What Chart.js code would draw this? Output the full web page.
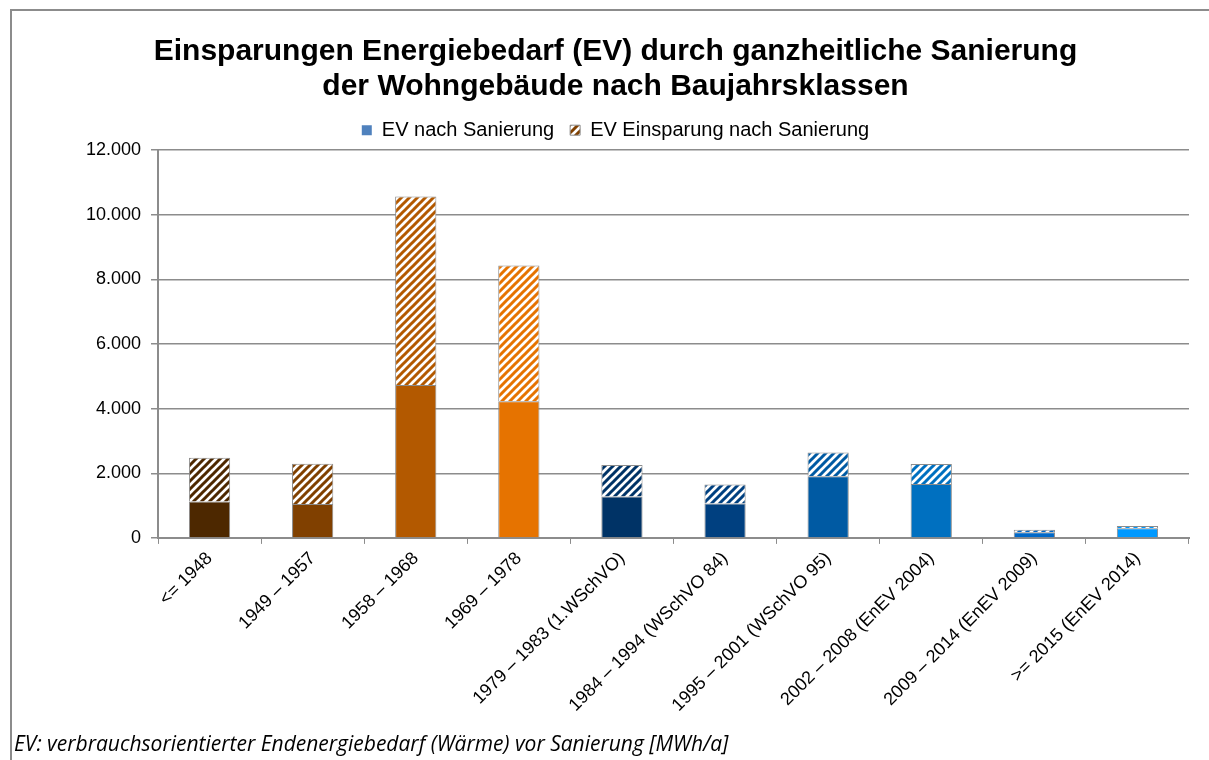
<!DOCTYPE html>
<html>
<head>
<meta charset="utf-8">
<script src="https://cdn.jsdelivr.net/npm/chart.js@4"></script>
<style>
  body { margin: 0; background: #fff; }
  #wrap { position: absolute; left: 10px; top: 9px; width: 1199px; height: 751px;
          border-top: 2px solid #8c8c8c; border-left: 2px solid #8c8c8c; box-sizing: border-box; }
  #note { position: absolute; left: 14px; top: 729px; font-family: "Open Sans", sans-serif;
          font-style: italic; font-size: 21px; color: #000; }
</style>
</head>
<body>
<div id="wrap"><canvas id="myChart"></canvas></div>
<div id="note">EV: verbrauchsorientierter Endenergiebedarf (Wärme) vor Sanierung [MWh/a]</div>
<script>
const ctx = document.getElementById("myChart")

const labels = [
    '<= 1948',
    '1949 – 1957',
    '1958 – 1968',
    '1969 – 1978',
    '1979 – 1983 (1.WSchVO)',
    '1984 – 1994 (WSchVO 84)',
    '1995 – 2001 (WSchVO 95)',
    '2002 – 2008 (EnEV 2004)',
    '2009 – 2014 (EnEV 2009)',
    '>= 2015 (EnEV 2014)',
]

const nachSanierung = [1130, 1050, 4730, 4230, 1285, 1065, 1905, 1670, 175, 300]
const einsparung = [1350, 1245, 5840, 4200, 975, 585, 740, 620, 75, 70]

const barColors = ['#4d2800', '#804000', '#b35900', '#e67300', '#003366',
                   '#004080', '#005aa3', '#0070c0', '#0068c8', '#0099ff']

// diagonal stripes, colour on white
function hatch(color) {
    const c = document.createElement('canvas')
    c.width = 8
    c.height = 8
    const g = c.getContext('2d')
    g.fillStyle = '#fff'
    g.fillRect(0, 0, 8, 8)
    g.strokeStyle = color
    g.lineWidth = 3
    g.beginPath()
    g.moveTo(-2, 10); g.lineTo(10, -2)
    g.moveTo(-6, 6); g.lineTo(6, -6)
    g.moveTo(2, 14); g.lineTo(14, 2)
    g.stroke()
    return g.createPattern(c, 'repeat')
}

const hatchColors = barColors.map(hatch)

const font = "'Liberation Sans', Arial, sans-serif"

const data = {
    labels,
    datasets: [{
        label: 'EV nach Sanierung',
        data: nachSanierung,
        backgroundColor: barColors,
        borderColor: '#8c8c8c',
        borderWidth: 1,
    }, {
        label: 'EV Einsparung nach Sanierung',
        data: einsparung,
        backgroundColor: hatchColors,
        borderColor: '#8c8c8c',
        borderWidth: 1,
    }]
}

const config = {
    type: 'bar',
    data: data,
    options: {
        responsive: false,
        animation: false,
        layout: { padding: { left: 30, right: 20, top: 0, bottom: 40 } },
        datasets: { bar: { barPercentage: 0.4, categoryPercentage: 1 } },
        scales: {
            x: {
                stacked: true,
                grid: { drawOnChartArea: false, drawTicks: true, tickLength: 6, color: '#8c8c8c', offset: true },
                border: { color: '#8c8c8c', width: 2 },
                ticks: { color: '#000', font: { family: font, size: 18 }, maxRotation: 45, minRotation: 45, autoSkip: false, padding: 4 },
            },
            y: {
                stacked: true,
                min: 0,
                max: 12000,
                afterFit: s => { s.width = 116 },
                grid: { color: '#8c8c8c', lineWidth: 1.5, tickLength: 7 },
                border: { color: '#8c8c8c', width: 2 },
                ticks: {
                    stepSize: 2000,
                    color: '#000',
                    padding: 10,
                    font: { family: font, size: 18 },
                    callback: v => v.toLocaleString('de-DE'),
                },
            },
        },
        plugins: {
            tooltip: { enabled: false },
            title: {
                display: true,
                text: ['Einsparungen Energiebedarf (EV) durch ganzheitliche Sanierung',
                       'der Wohngebäude nach Baujahrsklassen'],
                color: '#000',
                font: { family: font, size: 30, weight: 'bold', lineHeight: 1.17 },
                padding: { top: 23, bottom: 0 },
            },
            legend: {
                position: 'top',
                labels: {
                    color: '#000',
                    font: { family: font, size: 20 },
                    boxWidth: 10,
                    boxHeight: 10,
                    padding: 16,
                    generateLabels: chart => [
                        { text: 'EV nach Sanierung', fillStyle: '#4f81bd', strokeStyle: '#4f81bd', lineWidth: 0, datasetIndex: 0 },
                        { text: 'EV Einsparung nach Sanierung', fillStyle: hatch('#804000'), strokeStyle: '#8c8c8c', lineWidth: 1, datasetIndex: 1 },
                    ],
                },
            },
        },
    },
}

ctx.width = 1197
ctx.height = 749
const myChart = new Chart(ctx, config)
</script>
</body>
</html>
